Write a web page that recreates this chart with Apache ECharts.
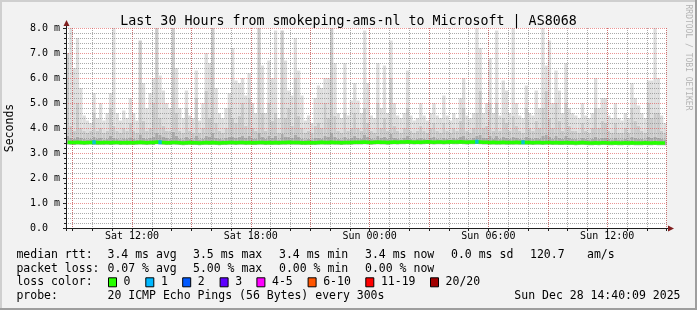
<!DOCTYPE html>
<html><head><meta charset="utf-8">
<script src="https://cdn.jsdelivr.net/npm/echarts@6/dist/echarts.min.js"></script>
<style>html,body{margin:0;padding:0;background:#f2f2f2}#c{width:697px;height:310px}</style>
</head><body><div id="c"></div>
<script>
// ---- time categories: 10-minute steps from Sat 08:40 ----
const startMin = 8 * 60 + 40;
const stepMin = 10;
const nSteps = 182;
const categories = [];
for (let i = 0; i < nSteps; i++) {
  const t = startMin + i * stepMin;
  const day = t >= 1440 ? 'Sun' : 'Sat';
  const m = t % 1440;
  categories.push(day + ' ' + String(Math.floor(m / 60)).padStart(2, '0') + ':' + String(m % 60).padStart(2, '0'));
}
const xTickLabels = ['Sat 12:00', 'Sat 18:00', 'Sun 00:00', 'Sun 06:00', 'Sun 12:00'];
const majorGridTimes = ['Sat 09:00', 'Sat 12:00', 'Sat 15:00', 'Sat 18:00', 'Sat 21:00', 'Sun 00:00', 'Sun 03:00', 'Sun 06:00', 'Sun 09:00', 'Sun 12:00'];
const tStart = new Date(2025, 11, 27, 8, 40).getTime();
const tEnd = tStart + nSteps * stepMin * 60000;

// ---- smoke: lowest ping, top of dark band, top of medium band, max ping (ms) ----
const loPing = [
3.34,3.33,3.32,3.34,3.33,3.32,3.33,3.34,3.33,3.32,
3.33,3.32,3.33,3.32,3.33,3.34,3.32,3.33,3.32,3.33,
3.32,3.33,3.34,3.33,3.32,3.33,3.32,3.35,3.34,3.33,
3.32,3.32,3.34,3.33,3.32,3.31,3.32,3.33,3.32,3.32,
3.31,3.32,3.33,3.32,3.33,3.32,3.31,3.32,3.32,3.33,
3.33,3.32,3.33,3.33,3.32,3.33,3.32,3.32,3.33,3.33,
3.32,3.33,3.32,3.33,3.32,3.33,3.33,3.34,3.33,3.33,
3.33,3.32,3.32,3.33,3.32,3.32,3.33,3.34,3.33,3.33,
3.34,3.33,3.33,3.32,3.33,3.33,3.33,3.34,3.34,3.34,
3.35,3.34,3.33,3.34,3.35,3.34,3.34,3.33,3.34,3.35,
3.34,3.35,3.35,3.36,3.35,3.34,3.35,3.34,3.35,3.36,
3.35,3.34,3.35,3.35,3.34,3.35,3.36,3.35,3.35,3.36,
3.35,3.34,3.35,3.35,3.36,3.35,3.34,3.34,3.33,3.34,
3.33,3.33,3.34,3.33,3.33,3.33,3.34,3.33,3.34,3.33,
3.33,3.32,3.33,3.33,3.32,3.33,3.33,3.32,3.33,3.32,
3.32,3.33,3.32,3.32,3.31,3.32,3.33,3.32,3.31,3.31,
3.32,3.31,3.32,3.32,3.31,3.31,3.32,3.31,3.31,3.32,
3.31,3.32,3.31,3.31,3.31,3.32,3.31,3.31,3.32,3.31,
3.31,3.31];
const darkTop = [
3.70,3.62,3.58,3.66,3.60,3.57,3.55,3.58,3.64,3.56,
3.60,3.55,3.57,3.68,3.62,3.58,3.55,3.59,3.56,3.63,
3.58,3.55,3.75,3.62,3.57,3.60,3.66,3.80,3.72,3.64,
3.60,3.58,3.85,3.70,3.58,3.55,3.66,3.57,3.55,3.68,
3.55,3.58,3.70,3.64,3.82,3.62,3.58,3.55,3.60,3.66,
3.64,3.60,3.65,3.68,3.60,3.70,3.58,3.56,3.80,3.66,
3.57,3.68,3.62,3.70,3.55,3.78,3.64,3.66,3.60,3.72,
3.64,3.58,3.55,3.57,3.55,3.60,3.62,3.58,3.68,3.64,
3.80,3.66,3.57,3.55,3.66,3.57,3.60,3.70,3.62,3.58,
3.72,3.64,3.58,3.55,3.70,3.60,3.66,3.57,3.76,3.62,
3.58,3.55,3.60,3.68,3.57,3.55,3.57,3.62,3.58,3.55,
3.60,3.64,3.57,3.55,3.62,3.57,3.55,3.60,3.57,3.64,
3.68,3.58,3.55,3.60,3.70,3.74,3.60,3.62,3.68,3.57,
3.70,3.57,3.64,3.62,3.57,3.66,3.60,3.57,3.55,3.66,
3.60,3.57,3.62,3.58,3.68,3.72,3.64,3.58,3.68,3.62,
3.57,3.68,3.60,3.57,3.57,3.55,3.62,3.57,3.55,3.58,
3.66,3.58,3.62,3.60,3.57,3.55,3.60,3.55,3.55,3.58,
3.55,3.66,3.62,3.58,3.57,3.55,3.66,3.62,3.64,3.62,
3.57,3.55];
const midTop = [
7.0,4.1,3.9,5.0,4.0,3.9,3.8,3.9,4.6,3.9,
4.0,3.8,3.9,4.8,4.1,3.9,3.8,4.0,3.9,4.2,
3.9,3.8,7.5,4.3,3.9,4.0,5.0,8.0,4.4,4.1,
3.9,3.9,8.0,4.6,3.9,3.8,4.8,3.9,3.8,5.2,
3.8,4.0,5.5,4.4,8.0,4.2,3.9,3.8,4.0,4.8,
4.4,4.2,4.5,5.0,4.1,5.2,4.0,3.9,8.0,4.6,
3.9,5.0,4.3,4.6,3.8,7.9,4.4,4.8,4.1,6.0,
4.5,4.0,3.8,3.9,3.8,4.1,4.2,4.0,5.0,4.4,
8.0,4.5,3.9,3.8,4.6,3.9,4.0,4.6,4.0,3.9,
4.8,4.2,3.9,3.8,5.0,4.0,4.4,3.9,6.0,4.1,
3.9,3.8,4.0,4.8,3.9,3.8,3.9,4.1,3.9,3.8,
4.0,4.2,3.9,3.8,4.2,3.9,3.8,4.0,3.9,4.3,
4.8,3.9,3.8,4.0,4.6,5.5,4.0,4.1,5.0,3.9,
5.0,3.9,4.4,4.2,3.9,4.5,4.1,3.9,3.8,4.8,
4.0,3.9,4.3,4.0,4.8,5.5,4.4,4.0,5.0,4.3,
3.9,5.0,4.1,3.9,3.9,3.8,4.2,3.9,3.8,4.0,
4.8,4.0,4.3,4.2,3.9,3.8,4.2,3.8,3.8,4.0,
3.8,4.8,4.3,4.1,3.9,3.8,5.0,4.4,4.6,4.6,
3.9,3.8];
const maxPing = [
7.0,8.0,6.4,7.6,5.6,4.5,4.3,4.2,5.4,4.4,
5.0,4.3,4.6,5.4,8.0,4.6,4.3,4.7,4.4,5.2,
4.6,4.3,7.5,5.8,4.8,5.4,6.0,8.0,6.1,5.5,
5.0,4.8,8.0,6.4,4.8,4.4,5.5,4.5,4.4,6.3,
4.3,5.0,7.0,6.6,8.0,5.6,4.6,4.4,4.8,5.4,
7.2,5.9,5.8,6.0,5.3,6.2,5.0,4.6,8.0,6.5,
4.6,6.7,6.0,7.9,4.4,7.9,6.7,5.5,5.3,7.6,
6.3,5.3,4.3,4.5,4.2,5.2,5.7,5.6,6.0,6.0,
8.0,6.6,4.6,4.4,6.6,4.5,5.1,5.8,5.1,4.6,
7.9,5.8,4.5,4.4,6.6,4.8,6.5,4.6,7.5,5.0,
4.5,4.4,4.6,6.3,4.5,4.3,4.4,5.0,4.5,4.3,
4.6,5.0,4.5,4.4,5.3,4.5,4.3,4.6,4.4,5.2,
6.0,4.5,4.4,4.6,8.0,7.2,4.6,5.0,6.8,4.6,
7.9,4.5,5.9,5.5,4.6,8.0,5.0,4.5,4.4,5.7,
4.6,4.5,5.5,4.8,8.0,6.5,7.5,5.0,6.3,5.5,
4.6,6.6,4.8,4.6,4.5,4.4,5.0,4.5,4.4,4.6,
6.0,4.8,5.2,5.2,4.5,4.4,5.0,4.4,4.3,4.6,
4.4,5.8,5.2,4.9,4.6,4.4,5.9,5.9,8.0,6.0,
4.5,4.2];
// ---- median rtt (ms) ----
const medianRtt = [
3.43,3.42,3.42,3.43,3.42,3.41,3.42,3.42,3.43,3.42,
3.41,3.42,3.42,3.41,3.42,3.42,3.41,3.41,3.42,3.41,
3.41,3.42,3.43,3.42,3.41,3.42,3.42,3.44,3.43,3.42,
3.41,3.41,3.42,3.42,3.41,3.40,3.41,3.42,3.41,3.41,
3.40,3.41,3.42,3.41,3.42,3.41,3.40,3.41,3.41,3.42,
3.42,3.41,3.42,3.42,3.41,3.42,3.41,3.41,3.42,3.42,
3.41,3.42,3.41,3.42,3.41,3.42,3.42,3.43,3.42,3.42,
3.42,3.41,3.41,3.42,3.41,3.41,3.42,3.43,3.42,3.42,
3.43,3.42,3.42,3.41,3.42,3.42,3.42,3.43,3.43,3.43,
3.44,3.43,3.42,3.43,3.44,3.43,3.43,3.42,3.43,3.44,
3.43,3.44,3.44,3.45,3.44,3.43,3.44,3.43,3.44,3.45,
3.44,3.43,3.44,3.44,3.43,3.44,3.45,3.44,3.44,3.45,
3.44,3.43,3.44,3.44,3.45,3.44,3.43,3.43,3.42,3.43,
3.42,3.42,3.43,3.42,3.42,3.42,3.43,3.42,3.43,3.42,
3.42,3.41,3.42,3.42,3.41,3.42,3.42,3.41,3.42,3.41,
3.41,3.42,3.41,3.41,3.40,3.41,3.42,3.41,3.40,3.40,
3.41,3.40,3.41,3.41,3.40,3.40,3.41,3.40,3.40,3.41,
3.40,3.41,3.40,3.40,3.40,3.41,3.40,3.40,3.41,3.40,
3.40,3.40];
// steps where 1 of 20 pings was lost
const lossOneIdx = [8, 28, 124, 138];

// ---- legend text ----
const rttStats = ['3.4 ms avg', '3.5 ms max', '3.4 ms min', '3.4 ms now', '0.0 ms sd', '120.7', 'am/s'];
const lossStats = ['0.07 % avg', '5.00 % max', '0.00 % min', '0.00 % now'];
const lossLegend = ['0', '1', '2', '3', '4-5', '6-10', '11-19', '20/20'];
const lossLegendColors = ['#26ff00', '#00b8ff', '#0059ff', '#5e00ff', '#ff00ff', '#ff5500', '#ff0000', '#a10000'];
const probeText = '20 ICMP Echo Pings (56 Bytes) every 300s';
const stampText = 'Sun Dec 28 14:40:09 2025';
const titleText = 'Last 30 Hours from smokeping-ams-nl to Microsoft | AS8068';

// ---- layout (styling only) ----
const FONT = 'DejaVu Sans Mono';
const rttX = [107.5, 193, 279, 365, 451, 530, 587];
const lossX = [107.5, 193, 279, 365];
const boxX = [108, 145.3, 182.2, 219.6, 256.4, 307.6, 365.3, 430];
const rowY = [255, 268.6, 282.3, 296];
const HOUR = 3600000;

const s1 = darkTop.map((v, i) => Math.max(0, v - loPing[i]));
const s2 = midTop.map((v, i) => Math.max(0, v - darkTop[i]));
const s3 = maxPing.map((v, i) => Math.max(0, v - midTop[i]));
const lossData = lossOneIdx.map(i => [i, medianRtt[i]]);

const gfx = [];
function txt(x, y, s, extra) {
  gfx.push(Object.assign({ type: 'text', x: x, y: y, z: 100,
    style: Object.assign({ text: s, fontFamily: FONT, fontSize: 11.5, fill: '#000', verticalAlign: 'middle' }, extra || {}) }));
}
gfx.push({ type: 'rect', shape: { x: 0, y: 0, width: 697, height: 2 }, style: { fill: '#cfcfcf' }, z: 90 });
gfx.push({ type: 'rect', shape: { x: 0, y: 0, width: 2, height: 310 }, style: { fill: '#cfcfcf' }, z: 90 });
gfx.push({ type: 'rect', shape: { x: 0, y: 308, width: 697, height: 2 }, style: { fill: '#9e9e9e' }, z: 91 });
gfx.push({ type: 'rect', shape: { x: 695, y: 0, width: 2, height: 310 }, style: { fill: '#9e9e9e' }, z: 91 });
gfx.push({ type: 'line', shape: { x1: 66.5, y1: 28, x2: 66.5, y2: 24 }, style: { stroke: '#1f1f1f', lineWidth: 1 }, z: 50 });
gfx.push({ type: 'polygon', shape: { points: [[63.5, 26], [69.5, 26], [66.5, 20]] }, style: { fill: '#801f1f' }, z: 51 });
gfx.push({ type: 'line', shape: { x1: 666, y1: 228.5, x2: 670, y2: 228.5 }, style: { stroke: '#1f1f1f', lineWidth: 1 }, z: 50 });
gfx.push({ type: 'polygon', shape: { points: [[668, 225.5], [668, 231.5], [674, 228.5]] }, style: { fill: '#801f1f' }, z: 51 });
txt(10.5, 128, 'Seconds', { align: 'center' });
gfx[gfx.length - 1].rotation = Math.PI / 2;
txt(688.5, 57.5, 'RRDTOOL / TOBI OETIKER', { align: 'center', fontSize: 8, fill: '#b4b4b4' });
gfx[gfx.length - 1].rotation = -Math.PI / 2;
txt(16.4, rowY[0], 'median rtt:');
rttStats.forEach((s, i) => txt(rttX[i], rowY[0], s));
txt(16.4, rowY[1], 'packet loss:');
lossStats.forEach((s, i) => txt(lossX[i], rowY[1], s));
txt(16.4, rowY[2], 'loss color:');
lossLegend.forEach((s, i) => {
  gfx.push({ type: 'rect', z: 100, shape: { x: boxX[i] + 0.5, y: rowY[2] - 4.5, width: 8, height: 9 },
    style: { fill: lossLegendColors[i], stroke: '#000', lineWidth: 1 } });
  txt(boxX[i] + 15.6, rowY[2], s);
});
txt(16.4, rowY[3], 'probe:');
txt(107.5, rowY[3], probeText);
txt(680.5, rowY[3], stampText, { align: 'right' });

const chart = echarts.init(document.getElementById('c'), null, { renderer: 'canvas' });
chart.setOption({
  animation: false,
  backgroundColor: '#f2f2f2',
  title: { text: titleText, left: 'center', top: 10,
    textStyle: { fontFamily: FONT, fontSize: 13.3, fontWeight: 'normal', color: '#000' } },
  grid: { left: 66, top: 28, width: 600.6, height: 200, show: true, backgroundColor: '#ffffff', borderWidth: 0 },
  xAxis: [
    { type: 'category', data: categories, boundaryGap: true, position: 'bottom', z: 5,
      axisLine: { lineStyle: { color: '#1f1f1f', width: 1 } },
      axisTick: { show: false },
      axisLabel: { interval: (i, v) => xTickLabels.indexOf(v) >= 0, fontFamily: FONT, fontSize: 10, color: '#000',
        margin: 3, padding: [0, 3.3, 0, 0] },
      splitLine: { show: true, interval: (i, v) => majorGridTimes.indexOf(v) >= 0,
        lineStyle: { color: 'rgba(222,79,79,0.6)', type: [1, 1], width: 1 } } },
    { type: 'time', min: tStart, max: tEnd, position: 'bottom', z: 3,
      minInterval: HOUR, maxInterval: HOUR,
      axisLine: { show: false },
      axisTick: { show: true, length: 3, lineStyle: { color: '#1f1f1f' } },
      axisLabel: { show: false },
      splitLine: { show: true, showMinLine: false, showMaxLine: false,
        lineStyle: { color: 'rgba(143,143,143,0.75)', type: [1, 1], width: 1 } } }
  ],
  yAxis: { type: 'value', min: 0, max: 8, interval: 1, z: 4,
    axisLine: { show: true, lineStyle: { color: '#1f1f1f' } },
    axisTick: { show: true, length: 3, lineStyle: { color: '#1f1f1f' } },
    minorTick: { show: true, splitNumber: 5, length: 2, lineStyle: { color: '#1f1f1f' } },
    axisLabel: { formatter: (v) => v === 0 ? '0.0' : v.toFixed(1) + ' m', fontFamily: FONT, fontSize: 10, color: '#000', align: 'left', margin: 36 },
    splitLine: { show: true, lineStyle: { color: 'rgba(222,79,79,0.6)', type: [1, 1], width: 1 } },
    minorSplitLine: { show: true, lineStyle: { color: 'rgba(143,143,143,0.75)', type: [1, 1], width: 1 } } },
  series: [
    { type: 'bar', stack: 'smoke', data: loPing, barCategoryGap: '0%', itemStyle: { color: 'rgba(0,0,0,0)' }, silent: true, z: 2 },
    { type: 'bar', stack: 'smoke', data: s1, barCategoryGap: '0%', itemStyle: { color: '#ababab' }, silent: true, z: 2 },
    { type: 'bar', stack: 'smoke', data: s2, barCategoryGap: '0%', itemStyle: { color: '#cbcbcb' }, silent: true, z: 2 },
    { type: 'bar', stack: 'smoke', data: s3, barCategoryGap: '0%', itemStyle: { color: '#dedede' }, silent: true, z: 2 },
    { type: 'line', data: medianRtt, symbol: 'none', lineStyle: { color: '#26ff00', width: 3.5 }, z: 6, silent: true },
    { type: 'scatter', data: lossData, symbol: 'rect', symbolSize: [3.5, 4], itemStyle: { color: '#00b8ff' }, z: 7, silent: true }
  ],
  graphic: gfx
});
</script></body></html>
